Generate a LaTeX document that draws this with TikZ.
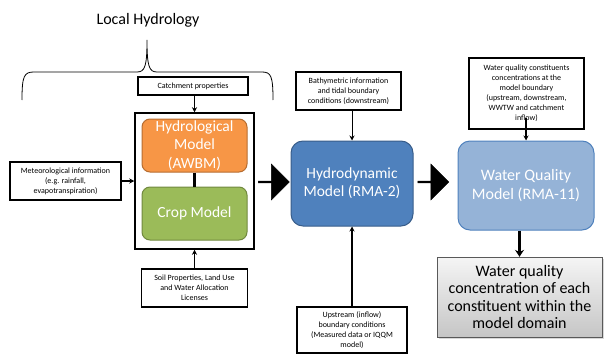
\documentclass[tikz,border=0pt]{standalone}
\usepackage{fontspec}
\setmainfont{Carlito}
\usepackage{tikz}
\usetikzlibrary{shapes.arrows, arrows.meta, shadows}

\begin{document}
\begin{tikzpicture}[x=1pt, y=-1pt,
        inbox/.style={rectangle, draw=black, line width=1.3pt, fill=white, inner sep=1pt,
        align=center, font=\fontsize{8}{10}\selectfont},
        model/.style={rectangle, rounded corners=8pt, line width=1pt, align=center,
        text=white, font=\fontsize{15.5}{18.5}\selectfont, inner sep=0pt},
        bigmodel/.style={model, rounded corners=12pt, font=\fontsize{15.5}{18}\selectfont},
        blockarrow/.style={single arrow, fill=black, draw=black, single arrow head extend=4pt,
        minimum height=31pt, minimum width=36pt, inner sep=0pt, shape border rotate=0},
        feed/.style={-{Stealth[length=5pt,width=5pt]}, line width=1.3pt},
        outbox/.style={rectangle, draw=gray!70!black, top color=gray!8, bottom color=gray!45,
        drop shadow={shadow xshift=2pt, shadow yshift=-2pt, fill=gray!60}, align=center,
        font=\fontsize{16}{17.5}\selectfont, inner sep=0pt}
    ]
    \useasboundingbox (0,0) rectangle (604,353);

    % Local hydrology brace
    \node[font=\fontsize{16}{18}\selectfont] (title) at (148,20) {Local Hydrology};
    \draw[line width=0.8pt] (22,100) .. controls (22,76) and (24,72) .. (34,72) -- (137,72)
        .. controls (145,72) and (147,66) .. (147,40)
        .. controls (147,66) and (149,72) .. (157,72) -- (262,72)
        .. controls (271,72) and (273,76) .. (273,100);

    % Local hydrology models
    \node[rectangle, draw=black, line width=1.5pt, minimum width=119pt, minimum height=136pt] (frame) at (194.5,181) {};
    \node[model, fill={rgb,255:red,247;green,150;blue,70}, draw={rgb,255:red,182;green,109;blue,49},
        minimum width=105pt, minimum height=53pt] (hydro) at (194.5,145.5) {Hydrological\\Model\\(AWBM)};
    \node[model, fill={rgb,255:red,155;green,187;blue,89}, draw={rgb,255:red,113;green,137;blue,63},
        minimum width=105pt, minimum height=53pt] (crop) at (194.5,213.5) {Crop Model};
    \draw[line width=2.5pt] (hydro.south) -- (crop.north);

    % Inputs to local hydrology
    \node[inbox, minimum width=110pt, minimum height=18pt] (catch) at (193,86) {Catchment properties};
    \node[inbox, minimum width=111pt, minimum height=38pt] (meteo) at (65.5,181)
        {Meteorological information\\(e.g. rainfall,\\evapotranspiration)};
    \node[inbox, minimum width=106pt, minimum height=38pt] (soil) at (194.5,288)
        {Soil Properties, Land Use\\and Water Allocation\\Licenses};
    \draw[feed] (catch.south -| frame.north) -- (frame.north);
    \draw[feed] (meteo.east) -- (meteo.east -| frame.west);
    \draw[feed, line width=1.8pt] (soil.north) -- (soil.north |- frame.south);

    % Hydrodynamic model
    \node[bigmodel, fill={rgb,255:red,79;green,129;blue,189}, draw={rgb,255:red,56;green,93;blue,138},
        minimum width=122pt, minimum height=85pt] (hydrodyn) at (352,183.5) {Hydrodynamic\\Model (RMA-2)};
    \node[inbox, minimum width=105pt, minimum height=38pt] (bathy) at (348.5,91)
        {Bathymetric information\\and tidal boundary\\conditions (downstream)};
    \node[inbox, minimum width=110pt, minimum height=46pt] (upstream) at (352,330)
        {Upstream (inflow)\\boundary conditions\\(Measured data or IQQM\\model)};
    \draw[feed, line width=1pt] (bathy.south -| hydrodyn.north) -- (hydrodyn.north);
    \draw[feed] (upstream.north) -- (hydrodyn.south);

    % Water quality model
    \node[bigmodel, fill={rgb,255:red,149;green,179;blue,215}, draw={rgb,255:red,79;green,129;blue,189},
        minimum width=136pt, minimum height=89pt, font=\fontsize{16}{18.5}\selectfont]
        (wq) at (526,185.5) {Water Quality\\Model (RMA-11)};
    \node[inbox, minimum width=115pt, minimum height=71pt] (wqc) at (526.5,93.5)
        {Water quality constituents\\concentrations at the\\model boundary\\(upstream, downstream,\\WWTW and catchment\\inflow)};
    \draw[feed] (wqc.south -| wq.north) ++(0,-12) -- (wq.north);

    % Output
    \node[outbox, minimum width=165pt, minimum height=80pt] (out) at (519.5,297)
        {Water quality\\concentration of each\\constituent within the\\model domain};
    \draw[-{Stealth[length=7pt,width=9pt]}, line width=2.8pt] (wq.south -| out.north) -- (out.north);

    % Block arrows between models
    \node[blockarrow] (arrA) at (273.5,182) {};
    \node[blockarrow] (arrB) at (433,182) {};

\end{tikzpicture}
\end{document}
